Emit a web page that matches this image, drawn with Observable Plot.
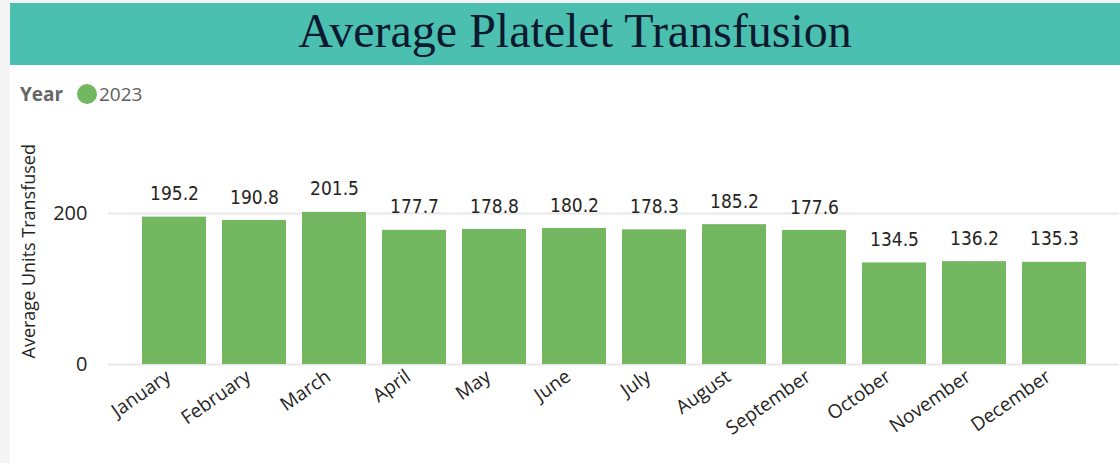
<!DOCTYPE html>
<html>
<head>
<meta charset="utf-8">
<script src="https://cdn.jsdelivr.net/npm/d3@7"></script>
<script src="https://cdn.jsdelivr.net/npm/@observablehq/plot@0.6"></script>
<style>
  html, body { margin: 0; padding: 0; }
  body { width: 1120px; height: 463px; background: #f4f4f4; position: relative; overflow: hidden; font-family: "Open Sans", sans-serif; }
  #card { position: absolute; left: 10px; top: 3px; width: 1110px; height: 460px; background: #ffffff; }
  #header { position: absolute; left: 10px; top: 3px; width: 1110px; height: 62px; background: #4cc0b0; }
  #title { position: absolute; left: 20px; top: 3px; width: 1110px; text-align: center; font-family: "Liberation Serif", "Times New Roman", serif; font-size: 48px; line-height: 56px; color: #0b1a2e; }
  #legend { position: absolute; left: 20px; top: 81px; height: 26px; font-size: 19px; color: #666666; }
  #legend .lab { position: absolute; left: 0; top: 0; font-weight: 700; line-height: 26px; }
  #legend .dot { position: absolute; left: 57px; top: 3px; width: 20px; height: 20px; border-radius: 50%; background: #73b761; }
  #legend .item { position: absolute; left: 79px; top: 0; line-height: 26px; color: #605e5c; }
  #chart { position: absolute; left: 0; top: 110px; }
</style>
</head>
<body>
<div id="card"></div>
<div id="header"></div>
<div id="title">Average Platelet Transfusion</div>
<div id="legend"><span class="lab">Year</span><span class="dot"></span><span class="item">2023</span></div>
<div id="chart"></div>
<script>
const months = ["January","February","March","April","May","June","July","August","September","October","November","December"];
const values = [195.2, 190.8, 201.5, 177.7, 178.8, 180.2, 178.3, 185.2, 177.6, 134.5, 136.2, 135.3];
const yTicks = [0, 200];
const seriesName = "2023";

const data = months.map((m, i) => ({month: m, value: values[i], year: seriesName}));

const chart = Plot.plot({
  width: 1120,
  height: 353,
  marginLeft: 108,
  marginRight: 1,
  marginTop: 27.5,
  marginBottom: 99,
  style: { fontFamily: "'Open Sans', sans-serif", background: "transparent" },
  x: { domain: months, paddingInner: 0.2, paddingOuter: 0.4, label: null },
  y: { domain: [0, 300], label: null },
  marks: [
    Plot.ruleY(yTicks, { stroke: "#e8e8e8", strokeWidth: 2 }),
    Plot.barY(data, { x: "month", y: "value", fill: "#73b761" }),
    Plot.text(data, {
      x: "month", y: "value", text: d => d.value.toFixed(1),
      dy: -23, lineAnchor: "middle", fontSize: 19, fill: "#252423",
      fontFamily: "'DejaVu Sans Condensed', Roboto, sans-serif", fontWeight: 500
    }),
    Plot.axisY({ ticks: yTicks, tickSize: 0, tickPadding: 21, fontSize: 20, color: "#252423", label: null }),
    Plot.axisY({ ticks: [], tickSize: 0, fontSize: 18, color: "#252423",
      label: "Average Units Transfused", labelAnchor: "center", labelArrow: "none", labelOffset: 86 }),
    Plot.axisX({ tickSize: 0, tickPadding: 10, tickRotate: -35, fontSize: 19, color: "#252423", label: null, dx: -6 })
  ]
});
document.getElementById("chart").appendChild(chart);
</script>
</body>
</html>
